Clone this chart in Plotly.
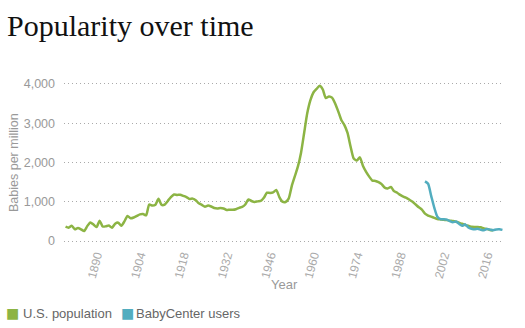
import plotly.graph_objects as go

# ---- data ----
us_years = list(range(1880, 2019))
us_values = [
    365, 340, 390, 300, 335, 300, 255, 380, 475, 420,          # 1880-1889
    355, 520, 370, 375, 395, 340, 440, 470, 390, 500,          # 1890-1899
    640, 580, 600, 640, 680, 690, 655, 930, 905, 925,          # 1900-1909
    1075, 920, 930, 1020, 1120, 1185, 1175, 1180, 1150, 1120,  # 1910-1919
    1070, 1080, 1040, 960, 920, 875, 905, 880, 840, 830,       # 1920-1929
    840, 830, 790, 800, 795, 810, 845, 870, 930, 1060,         # 1930-1939
    1020, 995, 1010, 1020, 1100, 1230, 1225, 1240, 1300, 1120, # 1940-1949
    1005, 995, 1080, 1400, 1650, 1900, 2250, 2750, 3250, 3580, # 1950-1959
    3780, 3870, 3950, 3860, 3640, 3680, 3650, 3500, 3300, 3080,# 1960-1969
    2950, 2750, 2400, 2100, 2050, 2130, 1910, 1760, 1640, 1540,# 1970-1979
    1530, 1500, 1450, 1360, 1340, 1375, 1270, 1230, 1175, 1130,# 1980-1989
    1100, 1050, 1000, 930, 860, 800, 700, 650, 620, 590,       # 1990-1999
    560, 550, 540, 535, 520, 510, 490, 465, 440, 410,          # 2000-2009
    390, 365, 360, 360, 350, 320, 310, 280, 275,               # 2010-2018
]

bc_years = list(range(1996, 2022))
bc_values = [
    1520, 1460, 1150, 850, 620, 560, 555, 545, 510, 480,
    500, 440, 390, 425, 345, 315, 300, 315, 290, 275,
    310, 290, 275, 295, 300, 285,
]

tick_years = [1890, 1904, 1918, 1932, 1946, 1960, 1974, 1988, 2002, 2016]
y_ticks = [0, 1000, 2000, 3000, 4000]
y_tick_labels = ["0", "1,000", "2,000", "3,000", "4,000"]

series_names = ["U.S. population", "BabyCenter users"]
green = "#8cb444"
blue = "#52adbf"
colors = [green, blue]

W, H = 525, 328
L, R, T, B = 64, 21, 76, 83
PW, PH = W - L - R, H - T - B


def px_x(px):
    return (px - L) / PW


def px_y(py):
    return (H - B - py) / PH


fig = go.Figure()
for xs, ys, col, name in [(us_years, us_values, green, series_names[0]),
                          (bc_years, bc_values, blue, series_names[1])]:
    fig.add_trace(go.Scatter(x=xs, y=ys, mode="lines", name=name,
                             line=dict(color=col, width=2.5, shape="spline", smoothing=0.6),
                             showlegend=False))

# legend drawn as text: coloured square + label
legend_sq_x = [12.5, 127]
legend_txt_x = [21, 134]
annotations = []
for name, col, sx, tx in zip(series_names, colors, legend_sq_x, legend_txt_x):
    annotations.append(dict(text="■", x=px_x(sx), xref="paper", xanchor="center",
                            y=px_y(313), yref="paper", yanchor="middle", showarrow=False,
                            font=dict(color=col, size=14, family="DejaVu Sans")))
    annotations.append(dict(text=name, x=px_x(tx), xref="paper", xanchor="left",
                            y=px_y(313), yref="paper", yanchor="middle", showarrow=False,
                            font=dict(color="#666666", size=13)))

annotations += [
    dict(text="Year", x=0.5, xref="paper", y=px_y(284), yref="paper",
         yanchor="middle", showarrow=False,
         font=dict(color="#999999", size=13)),
    dict(text="Babies per million", textangle=-90, x=px_x(14), xref="paper",
         xanchor="center", y=px_y(163), yref="paper", yanchor="middle",
         showarrow=False, font=dict(color="#999999", size=12.5)),
]

fig.update_layout(
    width=W, height=H,
    margin=dict(l=L, r=R, t=T, b=B),
    paper_bgcolor="white", plot_bgcolor="white",
    showlegend=False,
    font=dict(family="Liberation Sans, Arial, sans-serif", color="#999999", size=12),
    title=dict(text="Popularity over time", x=7/W, xanchor="left",
               xref="container", yref="container", y=1-15/H, yanchor="top",
               font=dict(family="Liberation Serif, Georgia, serif", size=30, color="#111111")),
    xaxis=dict(range=[1879.5, 2021.5], tickmode="array", tickvals=tick_years,
               ticktext=[str(t) for t in tick_years], tickangle=-75,
               showgrid=False, zeroline=False, showline=False, ticks="",
               tickfont=dict(color="#aaaaaa", size=12)),
    yaxis=dict(range=[-100, 4200], tickmode="array", tickvals=y_ticks,
               ticktext=y_tick_labels, showgrid=True, gridcolor="#aaaaaa",
               griddash="1px,3px", gridwidth=1, zeroline=False, showline=False,
               ticks="", ticklabelstandoff=8,
               tickfont=dict(color="#999999", size=12.5)),
    annotations=annotations,
)

fig.write_html("out.html")
